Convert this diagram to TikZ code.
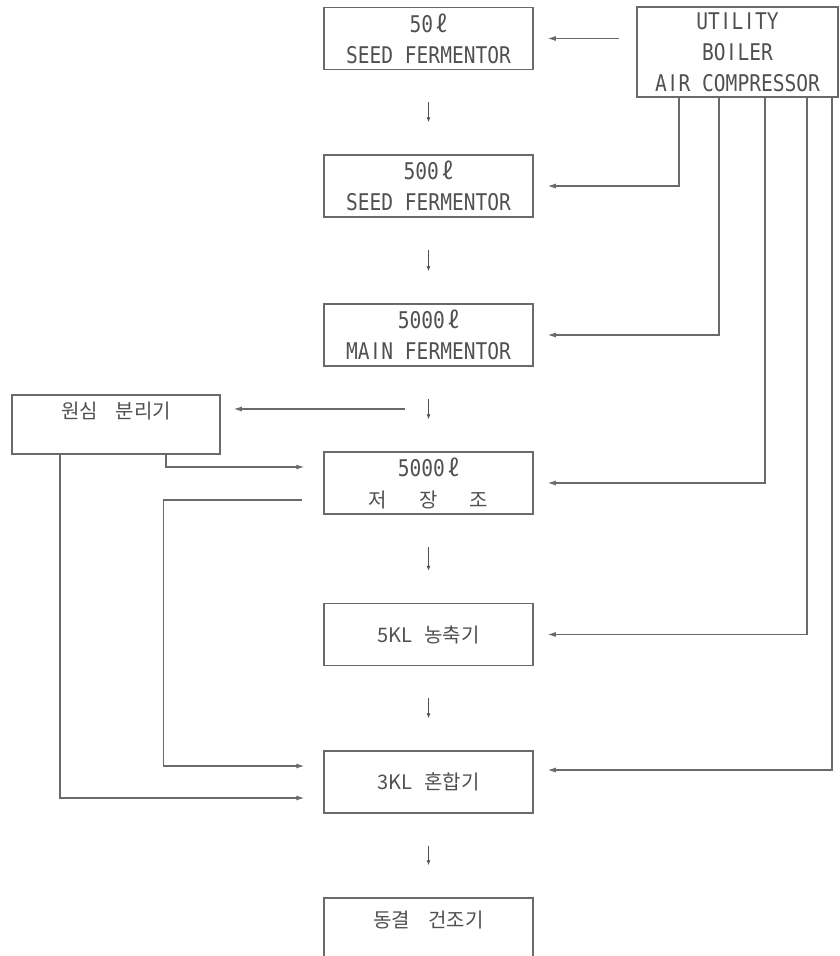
\documentclass[tikz,border=0pt]{standalone}
\usepackage{fontspec}
\usetikzlibrary{arrows.meta,calc}
\newfontfamily\monof[FakeStretch=0.85]{DejaVu Sans Mono}
\newfontfamily\plainf[FakeStretch=0.85]{DejaVu Sans}
\newfontfamily\krf{Noto Sans CJK KR}
\newcommand{\krs}{\krf\fontsize{20}{31}\selectfont}
\newcommand{\liter}{{\krf ℓ}}
\newcommand{\Iq}{\makebox[\fontcharwd\font`M]{\plainf I}}
\definecolor{ink}{HTML}{505050}
\definecolor{wire}{HTML}{6A6A6A}
\begin{document}
\begin{tikzpicture}[x=1pt,y=-1pt,
  box/.style={draw=wire, line width=1.5pt, rectangle, inner sep=0pt, text=ink,
    align=center, minimum width=209pt, minimum height=62pt,
    font=\monof\fontsize{23}{31}\selectfont},
  arr/.style={draw=wire, line width=1.1pt, -{Latex[length=8pt,width=5pt]}},
  dn/.style={draw=ink, line width=0.9pt, -{Latex[length=5pt,width=4pt]},
    shorten <=32pt, shorten >=32pt}]
\useasboundingbox (0,0) rectangle (839,956);
\fill[white] (0,0) rectangle (839,956);

% main column
\node[box] (b1) at (428.5,38.5) {50\,\liter\\SEED FERMENTOR};
\node[box] (b2) at (428.5,186) {500\,\liter\\SEED FERMENTOR};
\node[box] (b3) at (428.5,335) {5000\,\liter\\MA\Iq N FERMENTOR};
\node[box] (b4) at (428.5,483) {5000\,\liter\\{\krs 저\hspace{1.6em}장\hspace{1.6em}조}};
\node[box, font=\krs] (b5) at (428.5,634.5) {5KL\hspace{0.6em}농축기};
\node[box, font=\krs] (b6) at (428.5,782) {3KL\hspace{0.6em}혼합기};
\node[box, font=\krs, text height=15pt, text depth=19pt] (b7) at (428.5,929) {동결\hspace{0.9em}건조기};

% side boxes
\node[box, minimum width=201pt, minimum height=90pt] (util) at (737.5,52) {UT\Iq L\Iq TY\\BO\Iq LER\\A\Iq R COMPRESSOR};
\node[box, minimum width=208pt, minimum height=59pt, font=\krs, text height=15pt, text depth=28pt] (sep) at (116,424.5) {원심\hspace{0.9em}분리기};

% small down arrows between main boxes
\draw[dn] (b1.south) -- (b2.north);
\draw[dn] (b2.south) -- (b3.north);
\draw[dn] (b3.south) -- (b4.north);
\draw[dn] (b4.south) -- (b5.north);
\draw[dn] (b5.south) -- (b6.north);
\draw[dn] (b6.south) -- (b7.north);

% utility feeds
\draw[arr, shorten <=17pt, shorten >=14pt] (b1.east -| util.west) -- (b1.east);
\draw[arr, shorten >=14pt] ([xshift=-58.5pt]util.south) |- (b2.east);
\draw[arr, shorten >=14pt] ([xshift=-18.5pt]util.south) |- (b3.east);
\draw[arr, shorten >=14pt] ([xshift=27.5pt]util.south) |- (b4.east);
\draw[arr, shorten >=14pt] ([xshift=69.5pt]util.south) |- (b5.east);
\draw[arr, shorten >=14pt] ([xshift=94.5pt]util.south) |- ([yshift=12pt]b6.east);

% centrifuge branch
\coordinate (m34) at ($(b3.south)!0.5!(b4.north)$);
\draw[arr, shorten <=23.5pt, shorten >=13pt] (m34) -- (m34 -| sep.east);
\draw[arr, shorten >=19pt] ([xshift=50pt]sep.south) |- ([yshift=16pt]b4.west);
\draw[arr, shorten >=19pt] ([xshift=-56pt]sep.south) |- ([yshift=-16pt]b6.west);
\coordinate (t4) at ([xshift=-21pt,yshift=-17pt]b4.west);
\coordinate (k6) at ([xshift=-160pt,yshift=16pt]b6.west);
\draw[arr, shorten >=19pt] (t4) -| (k6) -- ([yshift=16pt]b6.west);
\end{tikzpicture}
\end{document}
